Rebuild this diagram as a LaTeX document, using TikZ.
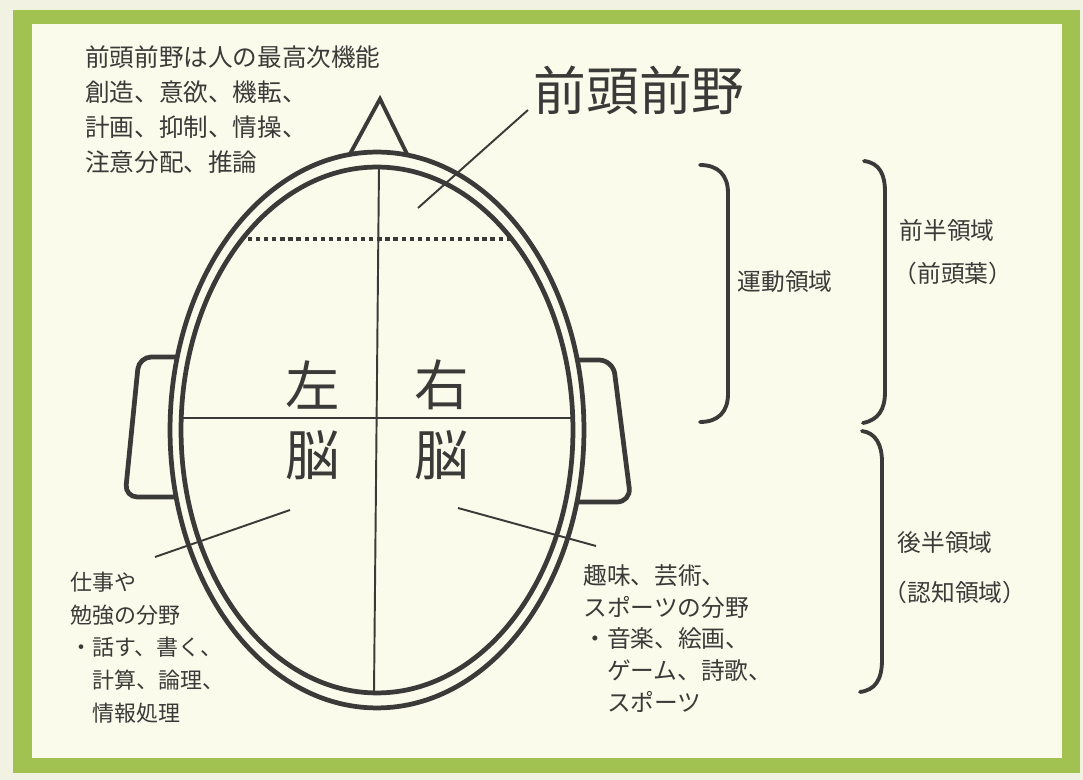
\documentclass[tikz,border=0pt]{standalone}
\usepackage{fontspec}
\newfontfamily\jpfont{Noto Sans CJK JP}
\definecolor{brainink}{RGB}{58,58,56}
\definecolor{brainpaper}{RGB}{251,251,236}
\definecolor{braingreen}{RGB}{161,193,80}
\definecolor{brainbg}{RGB}{241,242,226}

\begin{document}
\begin{tikzpicture}[x=0.02cm,y=-0.02cm,
    ring/.style={draw=brainink,line width=2.7pt},
    axis/.style={draw=brainink,line width=1.1pt},
    bracket/.style={draw=brainink,line width=2.2pt,line cap=round},
    lbl/.style={text=brainink,inner sep=0pt,font=\jpfont\fontsize{13.5pt}{18pt}\selectfont},
    big/.style={text=brainink,inner sep=0pt,font=\jpfont\fontsize{31pt}{36pt}\selectfont}]
        % paper and frame
        \fill[brainbg] (0,0) rectangle (1083,780);
        \fill[braingreen] (13,10) rectangle (1080,773);
        \fill[brainpaper] (32,24) rectangle (1062,758);
        \useasboundingbox (0,0) rectangle (1083,780);
        % ears, then the head on top of them
        \draw[ring,rounded corners=7pt,fill=brainpaper] (200,357) -- (139,357) -- (125,497) -- (200,497);
        \draw[ring,rounded corners=8pt,fill=brainpaper] (555,360) -- (613,360) -- (631,502) -- (555,502);
        \coordinate (c) at (377,430);
        \draw[ring,fill=brainpaper] (c) ellipse [x radius=4.14cm, y radius=5.56cm];
        \draw[ring] (c) ellipse [x radius=3.92cm, y radius=5.26cm];
        \draw[ring,line width=2.2pt] (350,154) -- (380,99) -- (407,154);
        % midlines and the frontal limit
        \draw[axis] (379,167) -- (374,693);
        \draw[axis] (181,418) -- (573,418);
        \draw[brainink,line width=2.2pt,dash pattern=on 2.4pt off 2.2pt] (248,239) -- (510,239);
        % hemispheres
        \node[big] (lt) at (313,385) {左};
        \node[big] (rt) at (442,385) {右};
        \node[big] (lb) at (313,455) {脳};
        \node[big] (rb) at (442,455) {脳};
        % labels with leaders
        \node[big,font=\jpfont\fontsize{30pt}{36pt}\selectfont] (pfc) at (639,90) {前頭前野};
        \coordinate (pfcin) at (418,208);
        \coordinate (pfctip) at (528,110);
        \draw[axis] (pfcin) -- (pfctip);
        \node[lbl,anchor=west,align=left,font=\jpfont\fontsize{14pt}{19.8pt}\selectfont] (func) at (85,109.5)
            {前頭前野は人の最高次機能\\創造、意欲、機転、\\計画、抑制、情操、\\注意分配、推論};
        \node[lbl,anchor=west,align=left,font=\jpfont\fontsize{12.5pt}{18.6pt}\selectfont] (work) at (70,647.5)
            {仕事や\\勉強の分野\\・話す、書く、\\\hphantom{・}計算、論理、\\\hphantom{・}情報処理};
        \coordinate (workin) at (290,510);
        \coordinate (worktip) at (155,557);
        \draw[axis] (workin) -- (worktip);
        \node[lbl,anchor=west,align=left,font=\jpfont\fontsize{13.5pt}{18pt}\selectfont] (hobby) at (583,638.5)
            {趣味、芸術、\\スポーツの分野\\・音楽、絵画、\\\hphantom{・}ゲーム、詩歌、\\\hphantom{・}スポーツ};
        \coordinate (hobbyin) at (458,508);
        \coordinate (hobbytip) at (596,546);
        \draw[axis] (hobbyin) -- (hobbytip);
        % regions on the right
        \draw[bracket] (700,165) .. controls (718,165) and (728,175) .. (728,193) -- (728,394)
            .. controls (728,412) and (718,422) .. (700,422);
        \draw[bracket] (864,161) .. controls (880,163) and (885,175) .. (885,192) -- (885,392)
            .. controls (885,410) and (878,420) .. (863,423);
        \draw[bracket] (862,431) .. controls (876,433) and (882,445) .. (882,462) -- (882,660)
            .. controls (882,680) and (875,690) .. (860,692);
        \node[lbl] (motor) at (785,282) {運動領域};
        \node[lbl] (front) at (947,230) {前半領域};
        \node[lbl] (frontsub) at (953,273) {（前頭葉）};
        \node[lbl] (back) at (945,543) {後半領域};
        \node[lbl] (backsub) at (955,592) {（認知領域）};
\end{tikzpicture}
\end{document}
